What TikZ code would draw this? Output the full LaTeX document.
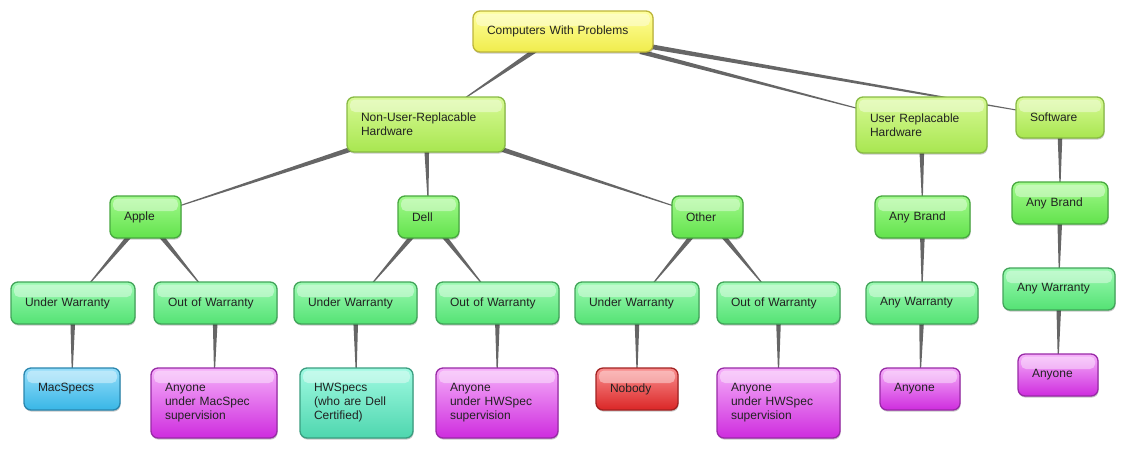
\documentclass[tikz,border=0pt]{standalone}
\usepackage{fontspec}
\setmainfont{Liberation Sans}
\usetikzlibrary{calc,backgrounds,shadows}
\definecolor{txt}{HTML}{222222}
\definecolor{edgecol}{HTML}{666666}
\definecolor{yTop}{HTML}{FFFF9E}\definecolor{yBot}{HTML}{F0EC4C}\definecolor{yBrd}{HTML}{BDB53A}
\definecolor{lTop}{HTML}{D8FA96}\definecolor{lBot}{HTML}{A8E650}\definecolor{lBrd}{HTML}{88BA44}
\definecolor{gTop}{HTML}{A2FA8C}\definecolor{gBot}{HTML}{62E24C}\definecolor{gBrd}{HTML}{48A840}
\definecolor{mTop}{HTML}{9CFAB2}\definecolor{mBot}{HTML}{54E274}\definecolor{mBrd}{HTML}{42A45A}
\definecolor{bTop}{HTML}{96DEFA}\definecolor{bBot}{HTML}{38B6E6}\definecolor{bBrd}{HTML}{2A86AE}
\definecolor{pTop}{HTML}{F6B0FA}\definecolor{pBot}{HTML}{CE2CDE}\definecolor{pBrd}{HTML}{982AA6}
\definecolor{tTop}{HTML}{A0FAE2}\definecolor{tBot}{HTML}{4ED6AE}\definecolor{tBrd}{HTML}{3A9E80}
\definecolor{rTop}{HTML}{FA8E8E}\definecolor{rBot}{HTML}{DA2626}\definecolor{rBrd}{HTML}{A22222}
\tikzset{
  base/.style={rectangle, rounded corners=7pt, line width=1.3pt, inner xsep=14pt, inner ysep=0pt,
    align=left, text=txt, font=\fontsize{12}{14}\selectfont,
    drop shadow={shadow xshift=0.6pt, shadow yshift=-1.6pt, opacity=0.22, fill=black},
    path picture={\fill[white,opacity=0.4,rounded corners=5pt]
      ([xshift=3pt,yshift=-2.5pt]path picture bounding box.north west) rectangle
      ([xshift=-3pt,yshift=-15pt]path picture bounding box.north east);}},
  ybox/.style={base, draw=yBrd, top color=yTop, bottom color=yBot},
  lbox/.style={base, draw=lBrd, top color=lTop, bottom color=lBot},
  gbox/.style={base, draw=gBrd, top color=gTop, bottom color=gBot},
  mbox/.style={base, draw=mBrd, top color=mTop, bottom color=mBot},
  bbox/.style={base, draw=bBrd, top color=bTop, bottom color=bBot},
  pbox/.style={base, draw=pBrd, top color=pTop, bottom color=pBot},
  tbox/.style={base, draw=tBrd, top color=tTop, bottom color=tBot},
  rbox/.style={base, draw=rBrd, top color=rTop, bottom color=rBot},
}
\newcommand\taperedge[2]{%
  \path (#1) -- coordinate[pos=0] (tpA) coordinate[pos=1] (tpB) (#2);
  \coordinate (tpA2) at ($(tpA)!-4pt!(tpB)$);
  \coordinate (tpB2) at ($(tpB)!-4pt!(tpA)$);
  \fill[edgecol] ($(tpA2)!2.4pt!90:(tpB2)$) -- ($(tpA2)!2.4pt!-90:(tpB2)$)
    -- ($(tpB2)!0.5pt!90:(tpA2)$) -- ($(tpB2)!0.5pt!-90:(tpA2)$) -- cycle;}
\begin{document}
\begin{tikzpicture}[x=1pt,y=-1pt]
\useasboundingbox (0,0) rectangle (1126,448);
% level 0
\node[ybox, text width=152pt, minimum height=41pt] (comp) at (563,31.5) {Computers With Problems};
% level 1
\node[lbox, text width=130pt, minimum height=55pt] (nonuser) at (426,124.5) {Non-User-Replacable\\Hardware};
\node[lbox, text width=103pt, minimum height=56pt] (userrep) at (921.5,125) {User Replacable\\Hardware};
\node[lbox, text width=60pt, minimum height=41pt] (soft) at (1060,117.5) {Software};
% level 2
\node[gbox, text width=43pt, minimum height=42pt] (apple) at (145.5,217) {Apple};
\node[gbox, text width=33pt, minimum height=42pt] (dell) at (428.5,217) {Dell};
\node[gbox, text width=43pt, minimum height=42pt] (other) at (707.5,217) {Other};
\node[gbox, text width=67pt, minimum height=42pt] (anyb1) at (922.5,217) {Any Brand};
\node[gbox, text width=68pt, minimum height=42pt] (anyb2) at (1060,203) {Any Brand};
% level 3
\node[mbox, text width=96pt, minimum height=42pt] (uw1) at (73,303) {Under Warranty};
\node[mbox, text width=95pt, minimum height=42pt] (ow1) at (215.5,303) {Out of Warranty};
\node[mbox, text width=95pt, minimum height=42pt] (uw2) at (355.5,303) {Under Warranty};
\node[mbox, text width=95pt, minimum height=42pt] (ow2) at (497.5,303) {Out of Warranty};
\node[mbox, text width=96pt, minimum height=42pt] (uw3) at (637,303) {Under Warranty};
\node[mbox, text width=95pt, minimum height=42pt] (ow3) at (778.5,303) {Out of Warranty};
\node[mbox, text width=84pt, minimum height=42pt] (aw1) at (922,303) {Any Warranty};
\node[mbox, text width=84pt, minimum height=42pt] (aw2) at (1059,289) {Any Warranty};
% level 4
\node[bbox, text width=68pt, minimum height=42pt] (mac) at (72,389) {MacSpecs};
\node[pbox, text width=98pt, minimum height=70pt] (anyM) at (214,403) {Anyone\\under MacSpec\\supervision};
\node[tbox, text width=85pt, minimum height=70pt] (hws) at (356.5,403) {HWSpecs\\(who are Dell\\Certified)};
\node[pbox, text width=94pt, minimum height=70pt] (anyH1) at (497,403) {Anyone\\under HWSpec\\supervision};
\node[rbox, text width=54pt, minimum height=42pt] (nobody) at (637,389) {Nobody};
\node[pbox, text width=95pt, minimum height=70pt] (anyH2) at (778.5,403) {Anyone\\under HWSpec\\supervision};
\node[pbox, text width=52pt, minimum height=42pt] (any1) at (920,389) {Anyone};
\node[pbox, text width=52pt, minimum height=42pt] (any2) at (1058,375) {Anyone};
% connectors
\begin{pgfonlayer}{background}
\taperedge{comp}{nonuser}
\taperedge{comp}{userrep}
\taperedge{comp}{soft}
\taperedge{nonuser}{apple}
\taperedge{nonuser}{dell}
\taperedge{nonuser}{other}
\taperedge{userrep}{anyb1}
\taperedge{soft}{anyb2}
\taperedge{apple}{uw1}
\taperedge{apple}{ow1}
\taperedge{dell}{uw2}
\taperedge{dell}{ow2}
\taperedge{other}{uw3}
\taperedge{other}{ow3}
\taperedge{anyb1}{aw1}
\taperedge{anyb2}{aw2}
\taperedge{uw1}{mac}
\taperedge{ow1}{anyM}
\taperedge{uw2}{hws}
\taperedge{ow2}{anyH1}
\taperedge{uw3}{nobody}
\taperedge{ow3}{anyH2}
\taperedge{aw1}{any1}
\taperedge{aw2}{any2}
\end{pgfonlayer}
\end{tikzpicture}
\end{document}
